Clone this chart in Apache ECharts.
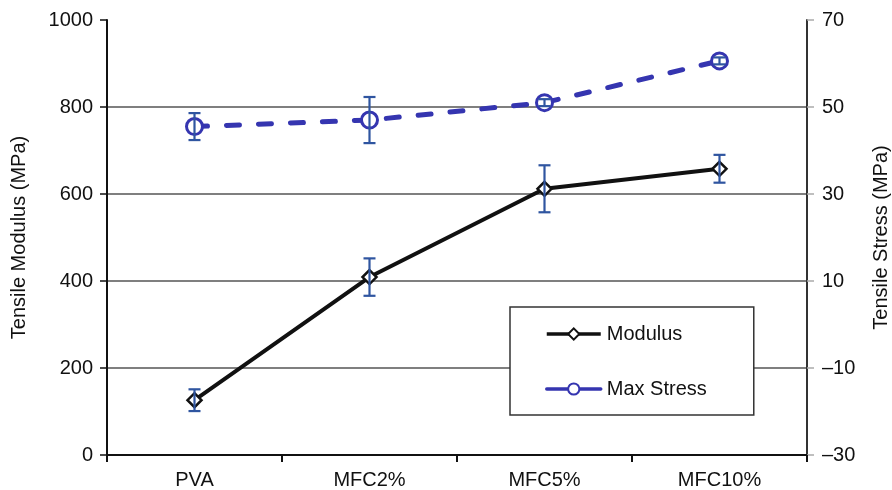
<!DOCTYPE html>
<html>
<head>
<meta charset="utf-8">
<script src="https://cdn.jsdelivr.net/npm/echarts@6/dist/echarts.min.js"></script>
<style>html,body{margin:0;padding:0;background:#fff}#c{width:892px;height:490px}</style>
</head>
<body>
<div id="c"></div>
<script>
var categories = ['PVA', 'MFC2%', 'MFC5%', 'MFC10%'];
var modulus = [126, 409, 612, 658];
var modulusErr = [25, 43, 54, 32];
var stress = [45.5, 47, 51, 60.6];
var stressErr = [3.1, 5.3, 0.8, 0.8];
var leftTicks = [0, 1000, 200];
var rightTicks = [-30, 70, 20];

var FONT = 'Liberation Sans, Arial, sans-serif';
var BAR = '#2f55a0';
var BLUE = '#3535b0';

function errData(vals, errs) {
  return vals.map(function (v, i) { return [i, v - errs[i], v + errs[i]]; });
}
function errRender(params, api) {
  var lo = api.coord([api.value(0), api.value(1)]);
  var hi = api.coord([api.value(0), api.value(2)]);
  var w = 6;
  var st = { stroke: BAR, lineWidth: 2.2 };
  return { type: 'group', children: [
    { type: 'line', shape: { x1: lo[0], y1: lo[1], x2: hi[0], y2: hi[1] }, style: st },
    { type: 'line', shape: { x1: lo[0] - w, y1: lo[1], x2: lo[0] + w, y2: lo[1] }, style: st },
    { type: 'line', shape: { x1: hi[0] - w, y1: hi[1], x2: hi[0] + w, y2: hi[1] }, style: st }
  ]};
}

var chart = echarts.init(document.getElementById('c'), null, { renderer: 'canvas' });
chart.setOption({
  animation: false,
  textStyle: { fontFamily: FONT },
  grid: { left: 107, right: 85, top: 20, bottom: 35, containLabel: false, outerBoundsMode: 'none' },
  legend: {
    orient: 'vertical', left: 510, top: 307,
    padding: [17, 47, 16, 35],
    itemGap: 35, itemWidth: 54, itemHeight: 14,
    borderColor: '#333', borderWidth: 1.5, backgroundColor: '#fff',
    textStyle: { fontSize: 20, color: '#111', fontFamily: FONT, padding: [0, 0, 0, 1] },
    data: [
      { name: 'Modulus', lineStyle: { type: 'solid', width: 3.5 } },
      { name: 'Max Stress', lineStyle: { type: 'solid', width: 3.5 } }
    ]
  },
  xAxis: {
    type: 'category', data: categories, boundaryGap: true,
    axisLine: { lineStyle: { color: '#111', width: 2 } },
    axisTick: { show: true, length: 7, inside: false, lineStyle: { color: '#111', width: 2 } },
    axisLabel: { fontSize: 20, color: '#111', margin: 15, fontFamily: FONT },
    splitLine: { show: false }
  },
  yAxis: [{
    type: 'value', min: leftTicks[0], max: leftTicks[1], interval: leftTicks[2],
    name: 'Tensile Modulus (MPa)', nameLocation: 'middle', nameGap: 78, nameRotate: 90,
    nameTextStyle: { fontSize: 20, color: '#111', fontFamily: FONT },
    axisLine: { show: true, lineStyle: { color: '#111', width: 2 } },
    axisTick: { show: true, length: 7, lineStyle: { color: '#111', width: 1.5 } },
    axisLabel: { fontSize: 20, color: '#111', margin: 14, fontFamily: FONT,
      formatter: function (v) { return String(v); } },
    splitLine: { show: true, lineStyle: { color: ['#555', '#555', '#555', '#555', '#555', 'rgba(0,0,0,0)'], width: 1.5 } }
  }, {
    type: 'value', min: rightTicks[0], max: rightTicks[1], interval: rightTicks[2],
    name: 'Tensile Stress (MPa)', nameLocation: 'middle', nameGap: 64, nameRotate: 90,
    nameTextStyle: { fontSize: 20, color: '#111', fontFamily: FONT, verticalAlign: 'top' },
    axisLine: { show: true, lineStyle: { color: '#333', width: 2 } },
    axisTick: { show: true, length: 7, lineStyle: { color: '#aaa', width: 1.5 } },
    axisLabel: { fontSize: 20, color: '#111', margin: 15, fontFamily: FONT,
      formatter: function (v) { return String(v).replace('-', '\u2013'); } },
    splitLine: { show: false }
  }],
  series: [
    { type: 'custom', name: 'errM', yAxisIndex: 0, z: 4, renderItem: errRender,
      data: errData(modulus, modulusErr), silent: true },
    { type: 'custom', name: 'errS', yAxisIndex: 1, z: 4, renderItem: errRender,
      data: errData(stress, stressErr), silent: true },
    { type: 'line', name: 'Modulus', yAxisIndex: 0, data: modulus, z: 3,
      symbol: 'diamond', symbolSize: 14,
      lineStyle: { color: '#111', width: 4 },
      itemStyle: { color: '#fff', borderColor: '#111', borderWidth: 2.5 } },
    { type: 'line', name: 'Max Stress', yAxisIndex: 1, data: stress, z: 3,
      symbol: 'circle', symbolSize: 16,
      lineStyle: { color: BLUE, width: 5, type: [13, 19], cap: 'round' },
      itemStyle: { color: '#fff', borderColor: BLUE, borderWidth: 3 } }
  ]
});
</script>
</body>
</html>
